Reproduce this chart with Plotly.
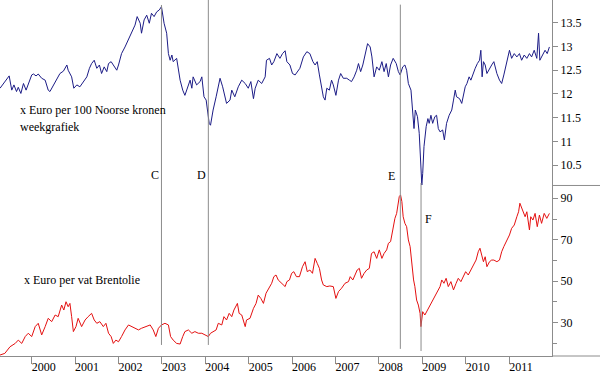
import plotly.graph_objects as go

# ---- data (decimal years) ----
nok_years = [1999.27,1999.35,1999.42,1999.48,1999.54,1999.59,1999.65,1999.69,1999.75,1999.81,1999.87,1999.95,
2000.00,2000.04,2000.10,2000.15,2000.23,2000.31,2000.38,2000.42,2000.50,2000.58,2000.65,2000.73,2000.81,2000.84,2000.92,2000.97,
2001.04,2001.11,2001.19,2001.27,2001.33,2001.38,2001.44,2001.50,2001.56,2001.61,2001.67,2001.73,2001.77,2001.83,2001.88,2001.96,
2002.00,2002.07,2002.15,2002.23,2002.30,2002.38,2002.43,2002.50,2002.53,2002.59,2002.65,2002.71,2002.76,2002.82,2002.88,2002.94,2002.99,
2003.02,2003.05,2003.11,2003.15,2003.19,2003.23,2003.26,2003.34,2003.42,2003.48,2003.53,2003.59,2003.65,2003.69,2003.72,2003.80,2003.88,2003.92,2003.97,
2004.02,2004.05,2004.09,2004.12,2004.18,2004.25,2004.30,2004.34,2004.40,2004.45,2004.49,2004.57,2004.61,2004.68,2004.76,2004.84,2004.92,2004.99,
2005.05,2005.11,2005.15,2005.22,2005.30,2005.38,2005.41,2005.48,2005.53,2005.58,2005.65,2005.72,2005.78,2005.84,2005.88,2005.95,
2006.01,2006.07,2006.13,2006.18,2006.26,2006.34,2006.41,2006.48,2006.53,2006.58,2006.63,2006.68,2006.72,2006.76,2006.80,2006.86,2006.91,2006.95,
2007.01,2007.07,2007.12,2007.18,2007.26,2007.32,2007.37,2007.43,2007.49,2007.53,2007.58,2007.63,2007.68,2007.74,2007.80,2007.84,2007.89,2007.95,
2008.01,2008.07,2008.12,2008.17,2008.22,2008.27,2008.33,2008.40,2008.45,2008.49,2008.55,2008.60,2008.64,2008.68,2008.74,2008.78,2008.81,2008.84,2008.89,2008.93,2008.96,2008.99,
2009.01,2009.04,2009.09,2009.13,2009.16,2009.20,2009.24,2009.29,2009.33,2009.37,2009.41,2009.47,2009.51,2009.56,2009.62,2009.68,2009.72,2009.76,2009.79,2009.86,2009.91,2009.95,2009.99,
2010.03,2010.08,2010.12,2010.16,2010.22,2010.27,2010.32,2010.35,2010.38,2010.41,2010.45,2010.49,2010.55,2010.60,2010.65,2010.72,2010.78,2010.83,2010.88,2010.95,
2011.01,2011.06,2011.12,2011.18,2011.24,2011.29,2011.35,2011.41,2011.47,2011.52,2011.58,2011.64,2011.68,2011.71,2011.78,2011.83,2011.88,2011.93]
nok_values = [12.12,12.22,12.33,12.38,12.08,12.19,12.05,12.14,12.01,12.22,12.08,12.29,
12.40,12.42,12.38,12.42,12.33,12.29,12.08,12.05,12.19,12.33,12.43,12.48,12.61,12.50,12.36,12.12,
12.19,12.15,12.26,12.36,12.54,12.64,12.71,12.54,12.61,12.43,12.57,12.47,12.64,12.68,12.61,12.50,
12.61,12.85,12.99,13.14,13.28,13.45,13.63,13.49,13.28,13.56,13.66,13.49,13.70,13.63,13.73,13.77,13.84,
13.66,13.49,13.28,12.85,12.71,12.82,12.68,12.75,12.29,12.08,11.97,12.12,12.29,12.12,12.36,12.19,12.26,12.36,11.94,
11.87,11.62,11.38,11.34,11.66,11.94,12.19,12.33,12.15,11.94,11.80,11.87,12.08,11.94,12.15,12.29,12.22,12.12,
12.26,11.90,12.12,12.29,12.22,12.36,12.71,12.75,12.61,12.68,12.85,12.75,12.85,12.91,12.68,12.61,
12.43,12.40,12.47,12.54,12.78,12.89,12.85,12.68,12.61,12.68,12.40,12.12,11.94,11.87,12.12,12.08,12.29,12.19,
11.97,12.29,12.43,12.33,12.33,12.29,12.26,12.36,12.50,12.64,12.47,12.61,12.85,13.06,12.99,12.78,12.36,12.57,
12.50,12.68,12.47,12.64,12.36,12.61,12.75,12.64,12.47,12.40,12.57,12.61,12.50,12.22,12.08,11.69,11.27,11.66,11.52,11.17,10.67,10.08,
10.32,10.89,11.31,11.48,11.38,11.55,11.38,11.52,11.55,11.27,11.20,11.24,11.03,11.38,11.55,11.66,11.87,12.08,11.94,11.90,11.80,12.01,12.15,
12.22,12.36,12.29,12.40,12.54,12.64,12.71,12.92,12.36,12.68,12.61,12.43,12.54,12.61,12.68,12.43,12.29,12.22,12.40,12.71,
12.92,12.75,12.85,12.78,12.85,12.71,12.82,12.75,12.85,12.78,12.92,12.75,13.28,12.71,12.85,12.92,12.85,12.99]

brent_years = [1999.27,1999.38,1999.50,1999.62,1999.69,1999.77,1999.85,1999.92,
2000.00,2000.08,2000.15,2000.23,2000.31,2000.38,2000.46,2000.54,2000.61,2000.69,2000.74,2000.79,2000.84,2000.88,2000.92,2000.96,
2001.02,2001.07,2001.15,2001.23,2001.30,2001.38,2001.44,2001.50,2001.57,2001.65,2001.71,2001.77,2001.83,2001.88,2001.94,
2002.00,2002.07,2002.15,2002.23,2002.30,2002.38,2002.46,2002.53,2002.65,2002.73,2002.80,2002.86,2002.92,2002.99,
2003.07,2003.15,2003.20,2003.26,2003.34,2003.42,2003.48,2003.53,2003.61,2003.69,2003.76,2003.84,2003.92,2003.99,
2004.07,2004.12,2004.18,2004.25,2004.30,2004.38,2004.43,2004.49,2004.55,2004.61,2004.66,2004.74,2004.78,2004.84,2004.92,2004.95,
2005.03,2005.11,2005.17,2005.22,2005.28,2005.34,2005.40,2005.48,2005.53,2005.58,2005.63,2005.68,2005.76,2005.84,2005.88,2005.94,2005.99,
2006.04,2006.10,2006.17,2006.24,2006.30,2006.35,2006.41,2006.47,2006.53,2006.58,2006.63,2006.68,2006.72,2006.80,2006.87,2006.95,
2007.01,2007.07,2007.14,2007.22,2007.30,2007.34,2007.40,2007.45,2007.50,2007.55,2007.60,2007.66,2007.72,2007.78,2007.83,2007.89,2007.95,
2008.01,2008.07,2008.12,2008.18,2008.22,2008.27,2008.32,2008.37,2008.41,2008.45,2008.47,2008.50,2008.53,2008.56,2008.60,2008.64,2008.68,2008.72,2008.76,2008.80,2008.83,2008.87,2008.91,2008.95,2008.97,
2009.01,2009.06,2009.12,2009.18,2009.24,2009.29,2009.35,2009.41,2009.45,2009.50,2009.55,2009.60,2009.66,2009.72,2009.78,2009.83,2009.89,2009.95,
2010.00,2010.06,2010.12,2010.18,2010.24,2010.29,2010.33,2010.37,2010.41,2010.45,2010.49,2010.55,2010.60,2010.65,2010.72,2010.78,2010.83,2010.88,2010.95,
2011.01,2011.06,2011.12,2011.18,2011.22,2011.25,2011.29,2011.33,2011.37,2011.41,2011.45,2011.47,2011.50,2011.55,2011.60,2011.65,2011.70,2011.75,2011.81,2011.87,2011.93]
brent_values = [14.4,15.2,18.4,20.0,21.6,20.0,23.3,24.9,
23.3,28.1,29.7,24.1,28.1,32.1,30.5,33.7,32.9,38.5,36.1,40.1,37.7,39.3,32.9,25.7,
28.1,32.1,28.1,31.3,32.9,34.5,31.3,29.7,30.5,28.1,29.7,24.9,23.3,20.0,21.6,
20.8,23.3,26.5,28.9,28.1,27.3,26.5,27.3,28.1,28.9,26.5,23.3,27.3,28.9,
29.7,28.9,23.3,21.6,20.0,19.7,23.3,25.7,26.5,24.9,25.7,24.9,24.9,24.1,
23.3,24.9,25.7,26.5,29.7,28.9,32.9,31.3,34.5,32.9,36.1,39.3,34.5,33.7,28.1,31.3,
32.1,36.9,39.3,43.3,41.7,39.3,44.2,47.4,49.0,52.2,53.0,50.6,49.0,47.4,49.8,50.6,53.8,
54.6,52.2,52.2,57.0,59.4,54.6,55.4,53.8,61.0,58.6,56.2,50.6,48.2,47.4,47.7,47.4,
41.7,45.0,46.6,49.0,49.8,52.2,50.6,53.0,55.4,56.2,51.4,53.8,55.4,56.2,63.4,64.2,61.0,
65.1,61.0,63.4,65.1,68.3,69.1,74.7,80.3,82.7,87.6,90.8,91.6,88.4,81.1,77.9,76.3,69.9,66.7,57.0,50.6,47.4,40.9,38.5,34.5,28.1,
35.3,33.7,36.1,38.5,40.9,42.5,45.0,47.4,50.6,49.0,51.4,47.4,49.8,45.8,49.0,51.4,49.8,52.2,
54.6,53.0,55.4,57.8,60.2,64.2,65.9,62.6,59.4,61.8,57.0,59.4,60.2,60.2,59.4,60.2,64.2,66.7,69.9,
72.3,75.5,77.1,81.1,83.5,87.6,85.2,82.7,81.1,83.5,77.9,74.7,81.1,79.5,82.7,76.3,81.9,77.9,82.7,80.3,82.7]

year_ticks = list(range(2000, 2012))
year_labels = [str(y) for y in year_ticks]
nok_ticks = [10.5, 11, 11.5, 12, 12.5, 13, 13.5]
brent_ticks = [30, 50, 70, 90]
event_labels = ["C", "D", "E", "F"]
event_years = [2002.99, 2004.07, 2008.495, 2008.972]

FONT = "Liberation Serif, Times New Roman, serif"
GRAY = "#8c8c8c"

fig = go.Figure()
fig.add_trace(go.Scatter(x=nok_years, y=nok_values, mode="lines",
                         line=dict(color="#1c1c86", width=1), xaxis="x", yaxis="y"))
fig.add_trace(go.Scatter(x=brent_years, y=brent_values, mode="lines",
                         line=dict(color="#e41010", width=1), xaxis="x", yaxis="y2"))

split = 0.479
fig.update_layout(
    width=600, height=375, showlegend=False,
    margin=dict(l=0, r=48, t=0, b=19),
    paper_bgcolor="white", plot_bgcolor="white",
    font=dict(family=FONT, size=12, color="black"),
    xaxis=dict(range=[1999.269, 2011.99], anchor="y2", tickvals=year_ticks, ticktext=year_labels,
               ticks="outside", ticklen=7, tickcolor=GRAY, showline=True, linecolor=GRAY,
               showgrid=False, zeroline=False, ticklabelshift=12, ticklabelstandoff=-7,
               tickfont=dict(family=FONT, size=12)),
    yaxis=dict(domain=[split, 1], range=[10.07, 13.98], side="right", anchor="x",
               tickvals=nok_ticks, ticktext=["10.5", "11", "11.5", "12", "12.5", "13", "13.5"],
               ticks="outside", ticklen=5, tickcolor=GRAY, showline=True, linecolor=GRAY,
               showgrid=False, zeroline=False, tickfont=dict(family=FONT, size=12)),
    yaxis2=dict(domain=[0, split], range=[13.93, 96.17], side="right", anchor="x",
                tickvals=brent_ticks, ticks="outside", ticklen=5, tickcolor=GRAY,
                minor=dict(tickvals=[20, 40, 60, 80], ticks="outside", ticklen=4, tickcolor=GRAY),
                showline=True, linecolor=GRAY, showgrid=False, zeroline=False,
                tickfont=dict(family=FONT, size=12)),
)

# separator to the right of the axis and the extended bottom line
fig.add_shape(type="line", xref="paper", yref="paper", x0=1, x1=600/552, y0=split, y1=split,
              line=dict(color=GRAY, width=1))
fig.add_shape(type="line", xref="paper", yref="paper", x0=1, x1=600/552, y0=0, y1=0,
              line=dict(color=GRAY, width=1))

# event lines
spans = [(0.031, 0.986), (0.031, 1.0), (0.02, 0.987), (0.014, 0.486)]
for xv, (a, b) in zip(event_years, spans):
    fig.add_shape(type="line", xref="x", yref="paper", x0=xv, x1=xv, y0=a, y1=b,
                  line=dict(color=GRAY, width=1))

label_pos = [(155, 175), (201, 175), (391, 176), (428, 219)]
for lab, (px, py) in zip(event_labels, label_pos):
    fig.add_annotation(text=lab, xref="paper", yref="paper", x=px/552, y=(356-py)/356,
                       xanchor="center", yanchor="middle", showarrow=False,
                       font=dict(family=FONT, size=12, color="black"))

texts = [("x Euro per 100 Noorse kronen", 18, 110), ("weekgrafiek", 18, 127),
         ("x Euro per vat Brentolie", 22, 280)]
for t, px, py in texts:
    fig.add_annotation(text=t, xref="paper", yref="paper", x=px/552, y=(356-py)/356,
                       xanchor="left", yanchor="middle", showarrow=False,
                       font=dict(family=FONT, size=12, color="black"))

fig.write_html("out.html", config={"displayModeBar": False},
               post_script="document.body.style.margin='0';")
